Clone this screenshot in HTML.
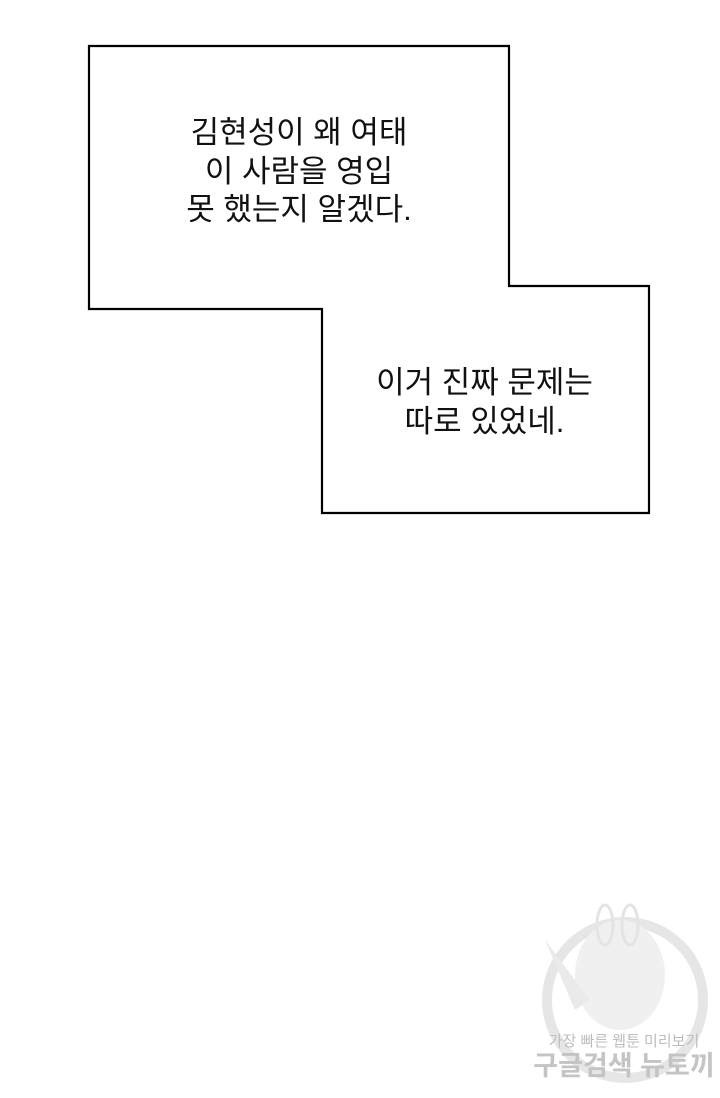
<!DOCTYPE html>
<html><head><meta charset="utf-8"><style>
body{margin:0;width:720px;height:1098px;background:#fff;position:relative;overflow:hidden;font-family:"Liberation Sans","Noto Sans CJK KR",sans-serif;}
.t{position:absolute;text-align:center;font-size:31px;line-height:38.5px;color:#111;white-space:nowrap}
</style></head><body>
<svg width="720" height="1098" style="position:absolute;left:0;top:0">
<polygon points="89,46 509,46 509,286 649,286 649,513 322,513 322,309 89,309" fill="#fff" stroke="#000" stroke-width="2.2"/>
<circle cx="625" cy="1000" r="78" fill="none" stroke="#e6e6e6" stroke-width="10"/>
<ellipse cx="620" cy="975" rx="45" ry="55" fill="#f0f0f0"/>
<ellipse cx="605" cy="925" rx="8" ry="20" fill="none" stroke="#e4e4e4" stroke-width="3"/>
<ellipse cx="630" cy="925" rx="8" ry="20" fill="none" stroke="#e4e4e4" stroke-width="3"/>
<path d="M545,940 L590,1000 L575,1010 Z" fill="#eaeaea"/>
<text x="624" y="1046" font-size="15" fill="#bdbdbd" text-anchor="middle" font-family="Liberation Sans,Noto Sans CJK KR,sans-serif">가장 빠른 웹툰 미리보기</text>
<text x="624" y="1075" font-size="27" font-weight="bold" fill="#c4c4c4" text-anchor="middle" font-family="Liberation Sans,Noto Sans CJK KR,sans-serif">구글검색 뉴토끼</text>
</svg>
<div class="t" style="left:89px;width:420px;top:114px">김현성이 왜 여태<br>이 사람을 영입<br>못 했는지 알겠다.</div>
<div class="t" style="left:322px;width:325px;top:364px">이거 진짜 문제는<br>따로 있었네.</div>
</body></html>
